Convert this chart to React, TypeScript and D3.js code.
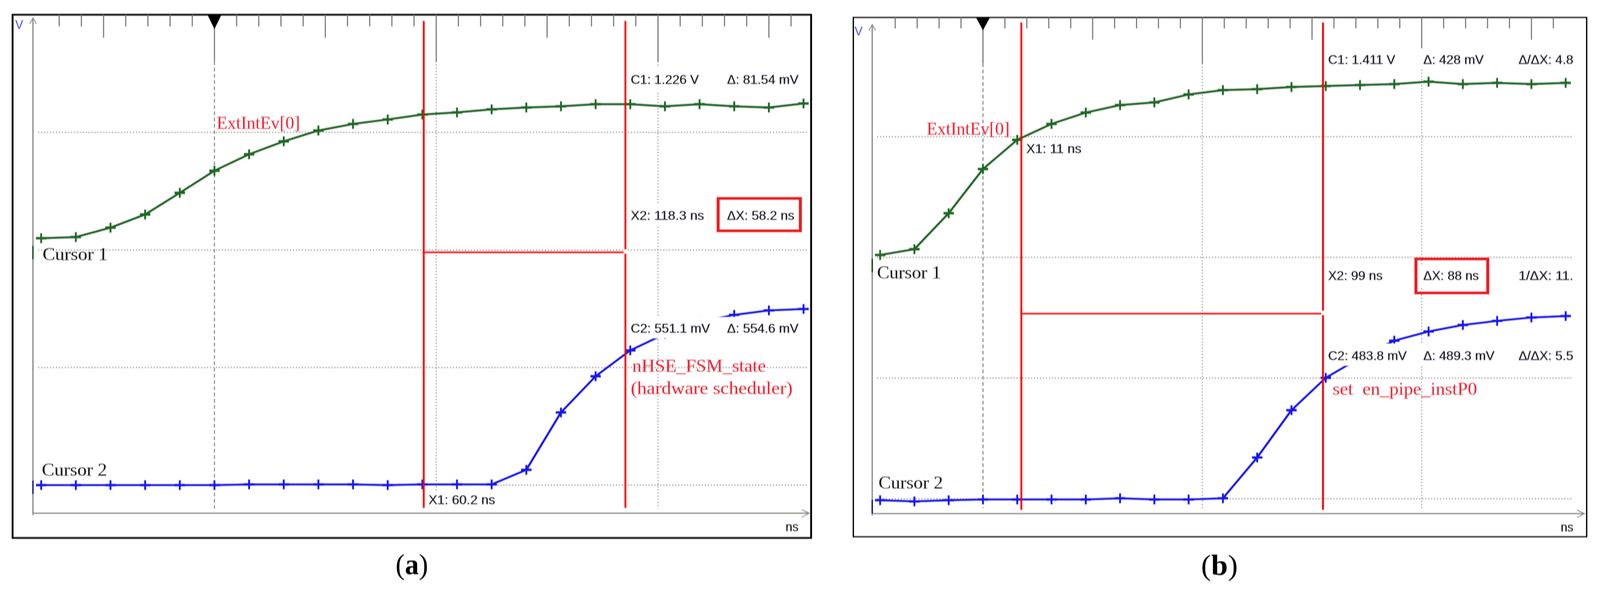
import * as d3 from 'd3';

// sample times in ns, one sample every 10 ns
const timesA = [-50, -40, -30, -20, -10, 0, 10, 20, 30, 40, 50, 60, 70, 80, 90, 100, 110, 120, 130, 140, 150, 160, 170];
const timesB = [-30, -20, -10, 0, 10, 20, 30, 40, 50, 60, 70, 80, 90, 100, 110, 120, 130, 140, 150, 160, 170];

// traces in V, read against the 0.5 V grid
const greenA = [1.05, 1.055, 1.095, 1.151, 1.243, 1.337, 1.407, 1.462, 1.508, 1.536, 1.555, 1.576, 1.585, 1.598, 1.606, 1.611, 1.62, 1.62, 1.611, 1.62, 1.611, 1.606, 1.623];
const blueA = [0, 0, 0, 0, 0, 0, 0.003, 0.003, 0.003, 0.003, 0, 0.003, 0.003, 0.003, 0.065, 0.309, 0.463, 0.573, 0.643, 0.693, 0.724, 0.743, 0.749];
const greenB = [1.01, 1.034, 1.183, 1.366, 1.487, 1.553, 1.6, 1.631, 1.642, 1.675, 1.693, 1.697, 1.706, 1.71, 1.714, 1.718, 1.728, 1.718, 1.723, 1.718, 1.723];
const blueB = [-0.006, -0.011, -0.006, -0.003, -0.003, -0.003, -0.003, 0.002, -0.003, -0.003, 0.002, 0.171, 0.367, 0.501, 0.584, 0.655, 0.693, 0.72, 0.737, 0.751, 0.757];

const cursorsA = [60.4, 118.6];
const cursorsB = [11.2, 99.2];

const gridVolts = [0, 0.5, 1, 1.5];
const gridTimes = [0, 64, 128];
const tickStep = 6.4; // ns between ruler ticks
const ticksA = d3.range(-7, 27);
const ticksB = d3.range(-4, 27);

type Label = [string, number, number, number]; // text, x, baseline, width

const readoutsA: Label[] = [
  ['C1: 1.226 V', 1703, 215, 184],
  ['Δ: 81.54 mV', 1963, 215, 193],
  ['X2: 118.3 ns', 1703, 563, 198],
  ['ΔX: 58.2 ns', 1963, 563, 182],
  ['C2: 551.1 mV', 1703, 852, 214],
  ['Δ: 554.6 mV', 1963, 852, 193],
  ['X1: 60.2 ns', 1157, 1291, 180],
  ['ns', 2121, 1360, 35],
];
const readoutsB: Label[] = [
  ['C1: 1.411 V', 3586, 164, 181],
  ['Δ: 428 mV', 3843, 164, 163],
  ['Δ/ΔX: 4.8', 4100, 164, 148],
  ['X2: 99 ns', 3586, 717, 147],
  ['ΔX: 88 ns', 3843, 717, 150],
  ['1/ΔX: 11.', 4100, 717, 148],
  ['C2: 483.8 mV', 3586, 922, 212],
  ['Δ: 489.3 mV', 3843, 922, 192],
  ['Δ/ΔX: 5.5', 4100, 922, 148],
  ['X1: 11 ns', 2771, 392, 149],
  ['ns', 4214, 1361, 34],
];
const notesA: Label[] = [
  ['ExtIntEv[0]', 585, 330, 225],
  ['nHSE_FSM_state', 1707, 952, 361],
  ['(hardware scheduler)', 1703, 1009, 437],
];
const notesB: Label[] = [
  ['ExtIntEv[0]', 2502, 345, 224],
  ['set  en_pipe_instP0', 3598, 1011, 390],
];
const cursorNamesA: Label[] = [
  ['Cursor 1', 115, 666, 176],
  ['Cursor 2', 113, 1218, 176],
];
const cursorNamesB: Label[] = [
  ['Cursor 1', 2368, 713, 173],
  ['Cursor 2', 2372, 1251, 174],
];

const GREEN = '#1d6a22';
const BLUE = '#1818ee';
const RED = '#ff0000';
const BOX_RED = '#ed1c24';
const NOTE_RED = '#ee2a3a';
const GRID = '#8f8f8f';
const AXIS = '#8c8c8c';
const SANS = '"Liberation Sans", Arial, sans-serif';
const SERIF = '"Liberation Serif", serif';

function Trace({ times, values, x, y, color }: any) {
  const line = d3.line<number>()
    .x((_, i) => x(times[i]))
    .y((d) => y(d));
  return (
    <g>
      <path d={line(values) as string} fill="none" stroke={color} strokeWidth={6} strokeLinejoin="round" />
      {values.map((v: number, i: number) => (
        <g key={i} stroke={color} fill="none">
          <path d={`M${x(times[i]) - 14},${y(v)}H${x(times[i]) + 14}`} strokeWidth={7} />
          <path d={`M${x(times[i])},${y(v) - 13}V${y(v) + 13}`} strokeWidth={5} />
        </g>
      ))}
    </g>
  );
}

function Labels({ items, font, size, fill, bold }: { items: Label[]; font: string; size: number; fill: string; bold: number }) {
  return (
    <g fontFamily={font} fontSize={size} fill={fill} stroke={fill} strokeWidth={bold}>
      {items.map(([t, x, y, w]) => (
        <text key={t + x} x={x} y={y} textLength={w} lengthAdjust="spacingAndGlyphs" xmlSpace="preserve">
          {t}
        </text>
      ))}
    </g>
  );
}

function Panel(p: any) {
  const x = d3.scaleLinear().domain([0, 170]).range([p.origin, p.origin + 170 * p.pxPerNs]);
  const y = d3.scaleLinear().domain([0, 1.5]).range([p.y0, p.y15]);
  const [cx1, cx2] = p.cursors.map((c: number) => x(c));
  const tickLen = (i: number) => (i % 10 === 0 ? p.longTick : i % 5 === 0 ? p.midTick : p.minorTick);

  return (
    <g>
      <rect x={p.left} y={p.top} width={p.right - p.left} height={p.bottom - p.top} fill="#fff" stroke="#000" strokeWidth={p.frame} />

      {/* grid */}
      {gridVolts.map((v) => (
        <line key={v} x1={p.gridLeft} x2={p.gridRight} y1={y(v)} y2={y(v)} stroke={GRID} strokeWidth={3} strokeDasharray="3 5" />
      ))}
      {gridTimes.map((t) => (
        <line
          key={t}
          x1={x(t)}
          x2={x(t)}
          y1={p.longTick}
          y2={p.gridBottom}
          stroke={GRID}
          strokeWidth={3}
          strokeDasharray={t === 0 ? '10 6' : '3 5'}
        />
      ))}

      {/* ruler along the top */}
      {p.ticks.map((i: number) => (
        <line key={i} x1={x(i * tickStep)} x2={x(i * tickStep)} y1={p.top} y2={tickLen(i)} stroke="#777" strokeWidth={3} />
      ))}
      <path d={`M${x(0) - 19},${p.top}H${x(0) + 19}L${x(0)},${p.triBottom}Z`} fill="#000" />

      {/* axes */}
      <path d={`M${p.axisX},${p.axisTop}V${p.axisY + 5}M${p.axisX},${p.axisY}H${p.axisRight}`} stroke={AXIS} strokeWidth={3.5} fill="none" />
      <path d={`M${p.axisX - 9},${p.axisTop + 15}L${p.axisX},${p.axisTop}L${p.axisX + 9},${p.axisTop + 15}`} stroke={AXIS} strokeWidth={2.5} fill="none" />
      <path d={`M${p.axisRight - 20},${p.axisY - 9}L${p.axisRight},${p.axisY}L${p.axisRight - 20},${p.axisY + 10}`} stroke={AXIS} strokeWidth={2.5} fill="none" />
      <line x1={p.axisX} x2={p.axisX} y1={p.greenMark[0]} y2={p.greenMark[1]} stroke="#0c4a12" strokeWidth={3.5} />
      <line x1={p.axisX} x2={p.axisX} y1={p.blueMark[0]} y2={p.blueMark[1]} stroke="#10108a" strokeWidth={3.5} />

      <Trace times={p.times} values={p.green} x={x} y={y} color={GREEN} />
      <Trace times={p.times} values={p.blue} x={x} y={y} color={BLUE} />

      {/* cursors */}
      <line x1={cx1} x2={cx1} y1={p.cursorTop} y2={p.cursorBottom} stroke={RED} strokeWidth={5} />
      <line x1={cx2} x2={cx2} y1={p.cursorTop} y2={p.cursorBottom} stroke={RED} strokeWidth={5} />
      <rect x={cx2 - 6} y={p.barY - 7} width={12} height={10} fill="#fff" />
      <line x1={cx1} x2={cx2 - 5} y1={p.barY} y2={p.barY} stroke={RED} strokeWidth={5} />

      {/* white plates behind the readouts */}
      {p.plates.map(([px, py, pw, ph]: number[]) => (
        <rect key={px + '-' + py} x={px} y={py} width={pw} height={ph} fill="#fff" />
      ))}

      <rect x={p.box[0]} y={p.box[1]} width={p.box[2]} height={p.box[3]} fill="none" stroke={BOX_RED} strokeWidth={8} />

      <Labels items={p.readouts} font={SANS} size={34} fill="#1c1c2a" bold={0.7} />
      <Labels items={p.notes} font={SERIF} size={46} fill={NOTE_RED} bold={0.3} />
      <Labels items={p.names} font={SERIF} size={46} fill="#1c1c1c" bold={0.3} />
      <text x={p.vX} y={p.vY} fontFamily={SANS} fontSize={33} fill="#4040ff">V</text>
    </g>
  );
}

function Caption({ x, letter, width, y }: { x: number; letter: string; width: number; y: number }) {
  return (
    <text x={x} y={y} fontFamily={SERIF} fontSize={75} fill="#000" textLength={width} lengthAdjust="spacingAndGlyphs">
      (<tspan fontWeight="bold">{letter}</tspan>)
    </text>
  );
}

export default function App() {
  // the photographed window can come out narrower than asked, so fill whatever it is
  return (
    <svg
      viewBox="0 0 4320 1508"
      preserveAspectRatio="none"
      style={{ position: 'fixed', left: 0, top: 0, width: '100vw', height: '100vh', background: '#fff' }}
    >
      <defs>
        {/* the reference is an enlarged screenshot, everything in it is a little soft */}
        <filter id="soft" filterUnits="userSpaceOnUse" x={0} y={0} width={4320} height={1508}>
          <feGaussianBlur stdDeviation={0.8} />
        </filter>
      </defs>
      <g filter="url(#soft)">
        <Panel
          left={34} right={2190} top={38} bottom={1377} frame={5}
          origin={579} pxPerNs={9.356} y0={1242} y15={339}
          times={timesA} green={greenA} blue={blueA} cursors={cursorsA} ticks={ticksA}
          minorTick={68} midTick={97} longTick={157} triBottom={75}
          gridLeft={103} gridRight={2180} gridBottom={1302}
          axisX={89} axisY={1314} axisTop={46} axisRight={2185}
          greenMark={[629, 664]} blueMark={[1230, 1265]}
          cursorTop={53} cursorBottom={1301} barY={646}
          plates={[[1697, 172, 470, 61], [1697, 523, 470, 58], [1697, 812, 470, 54], [1152, 1262, 190, 38]]}
          box={[1939, 508, 222, 83]}
          readouts={readoutsA} notes={notesA} names={cursorNamesA}
          vX={41} vY={74}
        />
        <Panel
          left={2304} right={4284} top={45} bottom={1374} frame={3.5}
          origin={2654} pxPerNs={9.255} y0={1277} y15={350}
          times={timesB} green={greenB} blue={blueB} cursors={cursorsB} ticks={ticksB}
          minorTick={73} midTick={102} longTick={162} triBottom={78}
          gridLeft={2368} gridRight={4245} gridBottom={1301}
          axisX={2355} axisY={1315} axisTop={63} axisRight={4278}
          greenMark={[662, 698]} blueMark={[1279, 1315]}
          cursorTop={57} cursorBottom={1306} barY={803}
          plates={[[3578, 124, 675, 53], [3578, 677, 675, 56], [3578, 880, 675, 56], [2764, 362, 160, 38]]}
          box={[3823, 663, 194, 87]}
          readouts={readoutsB} notes={notesB} names={cursorNamesB}
          vX={2307} vY={91}
        />
        <Caption x={1068} y={1470} letter="a" width={88} />
        <Caption x={3243} y={1472} letter="b" width={99} />
      </g>
    </svg>
  );
}
